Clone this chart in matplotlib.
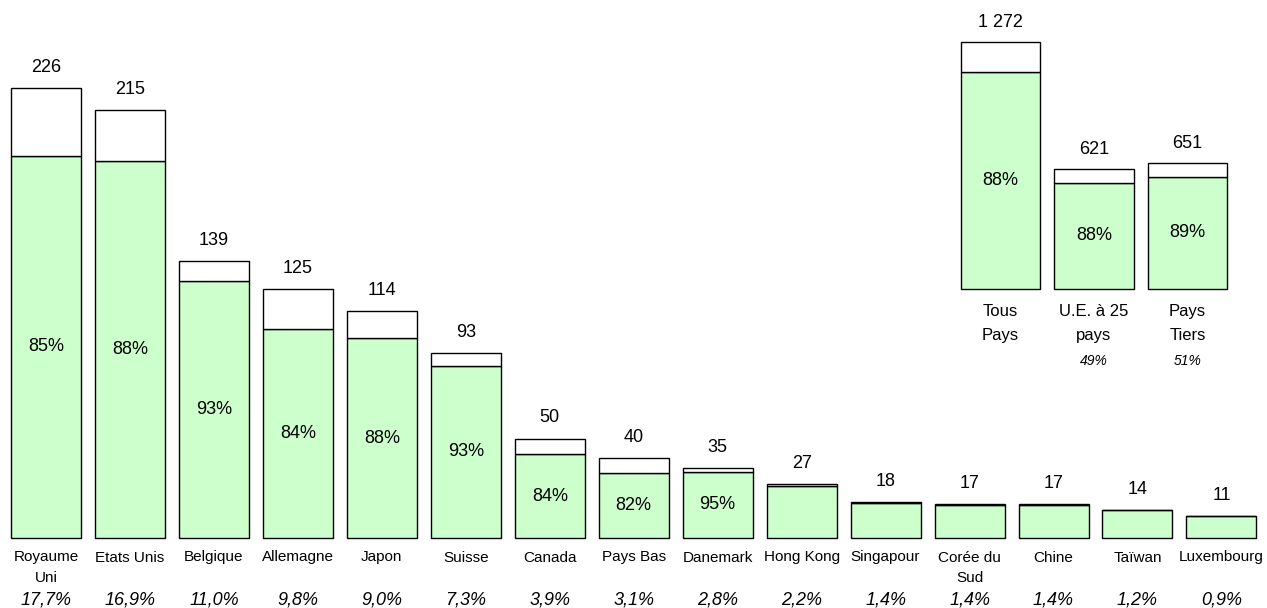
import matplotlib.pyplot as plt

plt.rcParams['font.family'] = ['Liberation Sans', 'DejaVu Sans']

# Pays (ordre décroissant)
pays = ['Royaume\nUni', 'Etats Unis', 'Belgique', 'Allemagne', 'Japon', 'Suisse',
        'Canada', 'Pays Bas', 'Danemark', 'Hong Kong', 'Singapour', 'Corée du\nSud',
        'Chine', 'Taïwan', 'Luxembourg']
totaux = [226, 215, 139, 125, 114, 93, 50, 40, 35, 27, 18, 17, 17, 14, 11]
part_verte = [85, 88, 93, 84, 88, 93, 84, 82, 95, 97, 98, 99, 98, 99, 99]
parts_total = ['17,7%', '16,9%', '11,0%', '9,8%', '9,0%', '7,3%', '3,9%', '3,1%',
               '2,8%', '2,2%', '1,4%', '1,4%', '1,4%', '1,2%', '0,9%']

# Encart : ensemble
groupes = ['Tous\nPays', 'U.E. à 25\npays', 'Pays\nTiers']
totaux_groupes = [1272, 621, 651]
part_verte_groupes = [88, 88, 89]
parts_groupes = ['', '49%', '51%']

VERT = '#CCFFCC'
W, H = 1267, 608


def fmt(v):
    return f'{v:,}'.replace(',', ' ')


fig = plt.figure(figsize=(W / 100, H / 100), dpi=100)

# Graphique principal
base = 538
px_unit = 1.99
step = 83.96
x0 = 46
ax = fig.add_axes([0, (H - base) / H, 1, base / H])
ax.set_xlim(-x0 / step, (W - x0) / step)
ax.set_ylim(0, base / px_unit)
ax.set_axis_off()

x = list(range(len(pays)))
vert = [t * p / 100 for t, p in zip(totaux, part_verte)]
blanc = [t - v for t, v in zip(totaux, vert)]
ax.bar(x, vert, 0.834, color=VERT, edgecolor='black', linewidth=1.0, clip_on=False)
ax.bar(x, blanc, 0.834, bottom=vert, color='white', edgecolor='black', linewidth=1.0,
       clip_on=False)

for i in x:
    ax.annotate(fmt(totaux[i]), (i, totaux[i]), xytext=(0, 15), textcoords='offset points',
                ha='center', va='center', fontsize=13)
    if totaux[i] >= 30:
        ax.text(i, vert[i] / 2, f'{part_verte[i]}%', ha='center', va='center', fontsize=13)
    ax.annotate(pays[i], (i, 0), xytext=(0, -9), textcoords='offset points',
                ha='center', va='top', fontsize=11, linespacing=1.55)
    ax.annotate(parts_total[i], (i, 0), xytext=(0, -44.6), textcoords='offset points',
                ha='center', va='center', fontsize=13, style='italic')

# Encart
base2 = 289
px_unit2 = 0.194
step2 = 93.5
x02 = 1000.5
ax2 = fig.add_axes([0, (H - base2) / H, 1, base2 / H])
ax2.set_xlim(-x02 / step2, (W - x02) / step2)
ax2.set_ylim(0, base2 / px_unit2)
ax2.set_axis_off()
ax2.patch.set_alpha(0)

xg = list(range(len(groupes)))
vert2 = [t * p / 100 for t, p in zip(totaux_groupes, part_verte_groupes)]
blanc2 = [t - v for t, v in zip(totaux_groupes, vert2)]
ax2.bar(xg, vert2, 0.845, color=VERT, edgecolor='black', linewidth=1.0, clip_on=False)
ax2.bar(xg, blanc2, 0.845, bottom=vert2, color='white', edgecolor='black', linewidth=1.0,
        clip_on=False)

for i in xg:
    ax2.annotate(fmt(totaux_groupes[i]), (i, totaux_groupes[i]), xytext=(0, 14),
                 textcoords='offset points', ha='center', va='center', fontsize=13)
    ax2.text(i, vert2[i] / 2, f'{part_verte_groupes[i]}%', ha='center', va='center', fontsize=13)
    ax2.annotate(groupes[i], (i, 0), xytext=(0, -11), textcoords='offset points',
                 ha='center', va='top', fontsize=12, linespacing=1.75)
    if parts_groupes[i]:
        ax2.annotate(parts_groupes[i], (i, 0), xytext=(0, -52), textcoords='offset points',
                     ha='center', va='center', fontsize=10, style='italic')

fig.savefig('out.png', dpi=100)
